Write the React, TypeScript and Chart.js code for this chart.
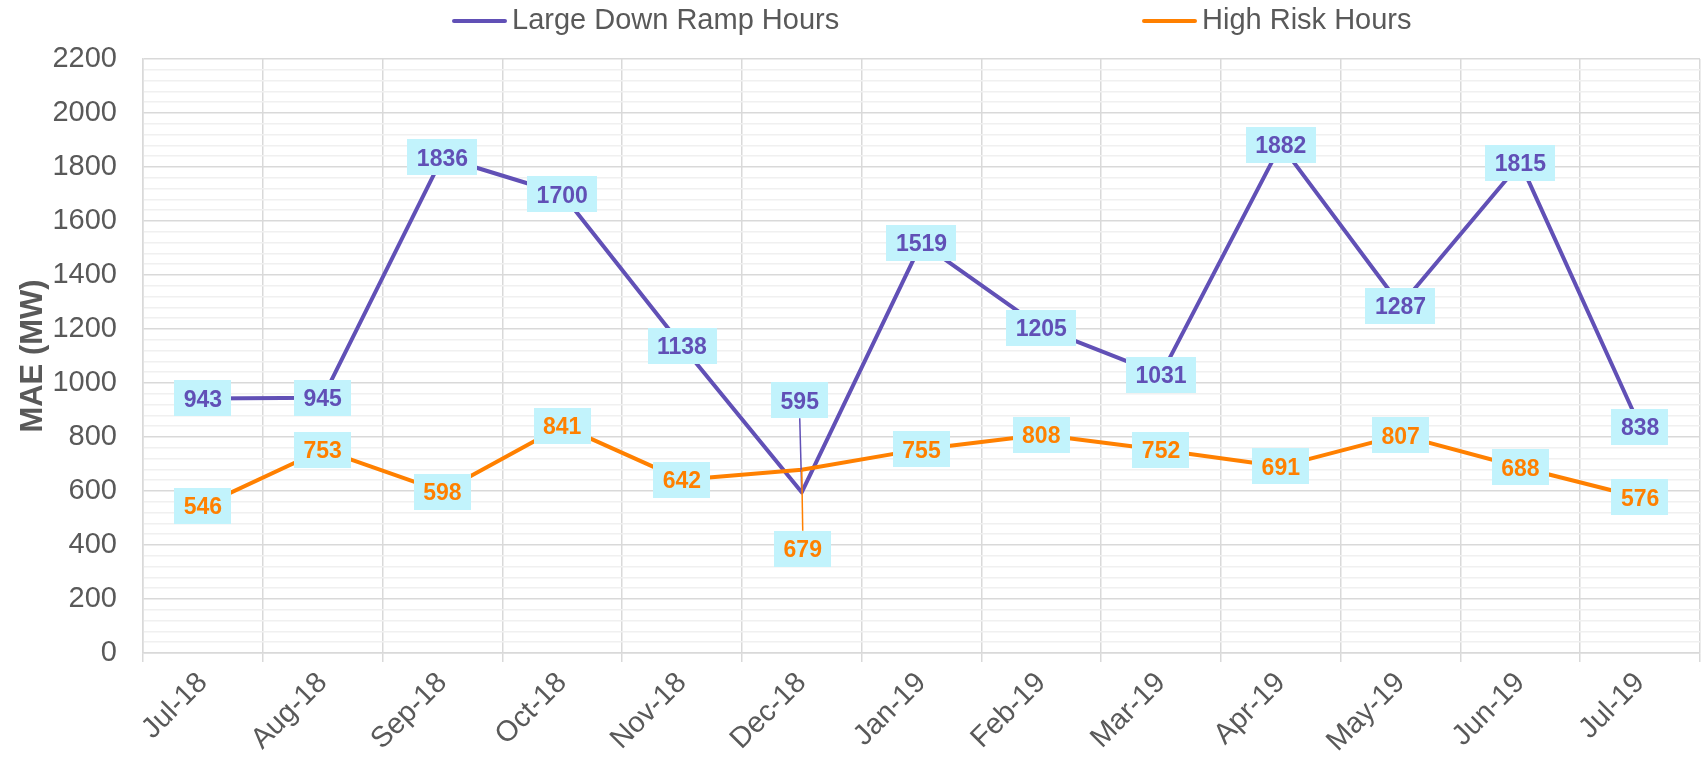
import React, { useEffect, useRef } from 'react';
import { Chart, registerables } from 'chart.js';

Chart.register(...registerables);

// ---- data ----
const categories = ['Jul-18', 'Aug-18', 'Sep-18', 'Oct-18', 'Nov-18', 'Dec-18', 'Jan-19', 'Feb-19', 'Mar-19', 'Apr-19', 'May-19', 'Jun-19', 'Jul-19'];
const largeDownRampHours = [943, 945, 1836, 1700, 1138, 595, 1519, 1205, 1031, 1882, 1287, 1815, 838];
const highRiskHours = [546, 753, 598, 841, 642, 679, 755, 808, 752, 691, 807, 688, 576];
const seriesNames = ['Large Down Ramp Hours', 'High Risk Hours'];
const yAxisTitle = 'MAE (MW)';
const yMin = 0;
const yMax = 2200;
const yMajorStep = 200;
const yMinorStep = 40;

// ---- styles ----
const FONT = '"Liberation Sans", Arial, Helvetica, sans-serif';
const PURPLE = '#6150B6';
const ORANGE = '#FF8000';
const LABEL_BG = '#C2F3FC';
const TEXT_GRAY = '#595959';
const GRID_MAJOR = '#D9D9D9';
const GRID_MINOR = '#F0F0F0';

// pixel offsets for labels moved away from their point (dataset -> index -> [dx, dy])
const LABEL_OFFSETS: Record<number, Record<number, [number, number]>> = {
  0: { 5: [-2, -92] },
  1: { 5: [1, 79] },
};

const valueLabelPlugin = {
  id: 'valueLabels',
  afterDatasetsDraw(chart: any) {
    const ctx = chart.ctx as CanvasRenderingContext2D;
    ctx.save();
    ctx.font = `bold 23px ${FONT}`;
    const padX = 9.5;
    const h = 36;
    chart.data.datasets.forEach((ds: any, di: number) => {
      const meta = chart.getDatasetMeta(di);
      meta.data.forEach((pt: any, i: number) => {
        const text = String(ds.data[i]);
        const w = ctx.measureText(text).width + padX * 2;
        let cx = pt.x;
        let cy = pt.y;
        const off = LABEL_OFFSETS[di] && LABEL_OFFSETS[di][i];
        if (off) {
          cx += off[0];
          cy += off[1];
          const edgeY = off[1] < 0 ? cy + h / 2 : cy - h / 2;
          ctx.strokeStyle = ds.borderColor;
          ctx.lineWidth = 1.5;
          ctx.beginPath();
          ctx.moveTo(pt.x, pt.y);
          ctx.lineTo(cx, edgeY);
          ctx.stroke();
        }
        ctx.fillStyle = LABEL_BG;
        ctx.fillRect(Math.round(cx - w / 2), Math.round(cy - h / 2), Math.round(w), h);
        ctx.fillStyle = ds.borderColor;
        ctx.textAlign = 'center';
        ctx.textBaseline = 'alphabetic';
        ctx.fillText(text, cx, cy + 8.5);
      });
    });
    ctx.restore();
  },
};

const legendPlugin = {
  id: 'customLegend',
  afterDraw(chart: any) {
    const ctx = chart.ctx as CanvasRenderingContext2D;
    const items = [
      { x: 452, color: PURPLE, text: seriesNames[0] },
      { x: 1142, color: ORANGE, text: seriesNames[1] },
    ];
    ctx.save();
    ctx.font = `29px ${FONT}`;
    ctx.textAlign = 'left';
    ctx.textBaseline = 'alphabetic';
    items.forEach((it) => {
      ctx.strokeStyle = it.color;
      ctx.lineWidth = 4;
      ctx.lineCap = 'round';
      ctx.beginPath();
      ctx.moveTo(it.x + 2, 21);
      ctx.lineTo(it.x + 53, 21);
      ctx.stroke();
      ctx.fillStyle = TEXT_GRAY;
      ctx.fillText(it.text, it.x + 60, 29);
    });
    ctx.restore();
  },
};

export default function App() {
  const ref = useRef<HTMLCanvasElement | null>(null);

  useEffect(() => {
    document.body.style.margin = '0';
    const canvas = ref.current;
    if (!canvas) return;
    const chart = new Chart(canvas, {
      type: 'line',
      data: {
        labels: categories,
        datasets: [
          {
            label: seriesNames[0],
            data: largeDownRampHours,
            borderColor: PURPLE,
            backgroundColor: PURPLE,
            borderWidth: 4,
            pointRadius: 0,
            pointHoverRadius: 0,
            tension: 0,
            borderJoinStyle: 'round',
            borderCapStyle: 'round',
            order: 1,
          },
          {
            label: seriesNames[1],
            data: highRiskHours,
            borderColor: ORANGE,
            backgroundColor: ORANGE,
            borderWidth: 4,
            pointRadius: 0,
            pointHoverRadius: 0,
            tension: 0,
            borderJoinStyle: 'round',
            borderCapStyle: 'round',
            order: 0,
          },
        ],
      },
      options: {
        responsive: false,
        animation: false,
        devicePixelRatio: 1,
        layout: { padding: { top: 59, right: 4, left: 0, bottom: 0 } },
        plugins: {
          legend: { display: false },
          tooltip: { enabled: false },
        },
        scales: {
          x: {
            type: 'category',
            offset: true,
            grid: {
              offset: true,
              color: GRID_MAJOR,
              lineWidth: 1.5,
              drawTicks: true,
              tickLength: 9,
            },
            border: { display: true, color: GRID_MAJOR, width: 1.5 },
            ticks: {
              autoSkip: false,
              minRotation: 45,
              maxRotation: 45,
              padding: 4,
              color: TEXT_GRAY,
              font: { family: FONT, size: 29 },
            },
            afterFit(scale: any) {
              scale.height = 104;
            },
          },
          y: {
            type: 'linear',
            min: yMin,
            max: yMax,
            grid: {
              drawTicks: false,
              lineWidth: 1.5,
              color: (c: any) => (c.tick && c.tick.value % yMajorStep === 0 ? GRID_MAJOR : GRID_MINOR),
            },
            border: { display: true, color: GRID_MAJOR, width: 1.5 },
            ticks: {
              stepSize: yMinorStep,
              maxTicksLimit: 200,
              autoSkip: false,
              padding: 26,
              color: TEXT_GRAY,
              font: { family: FONT, size: 29 },
              callback: (v: any) => (Number(v) % yMajorStep === 0 ? String(v) : ''),
            },
            title: {
              display: true,
              text: yAxisTitle,
              color: TEXT_GRAY,
              font: { family: FONT, size: 31, weight: 'bold' },
              padding: { top: 15, bottom: 0 },
            },
            afterFit(scale: any) {
              scale.width = 143;
            },
          },
        },
      },
      plugins: [valueLabelPlugin, legendPlugin],
    } as any);
    return () => chart.destroy();
  }, []);

  return (
    <div style={{ width: 1704, height: 757, background: '#ffffff' }}>
      <canvas ref={ref} width={1704} height={757} style={{ display: 'block' }} />
    </div>
  );
}
